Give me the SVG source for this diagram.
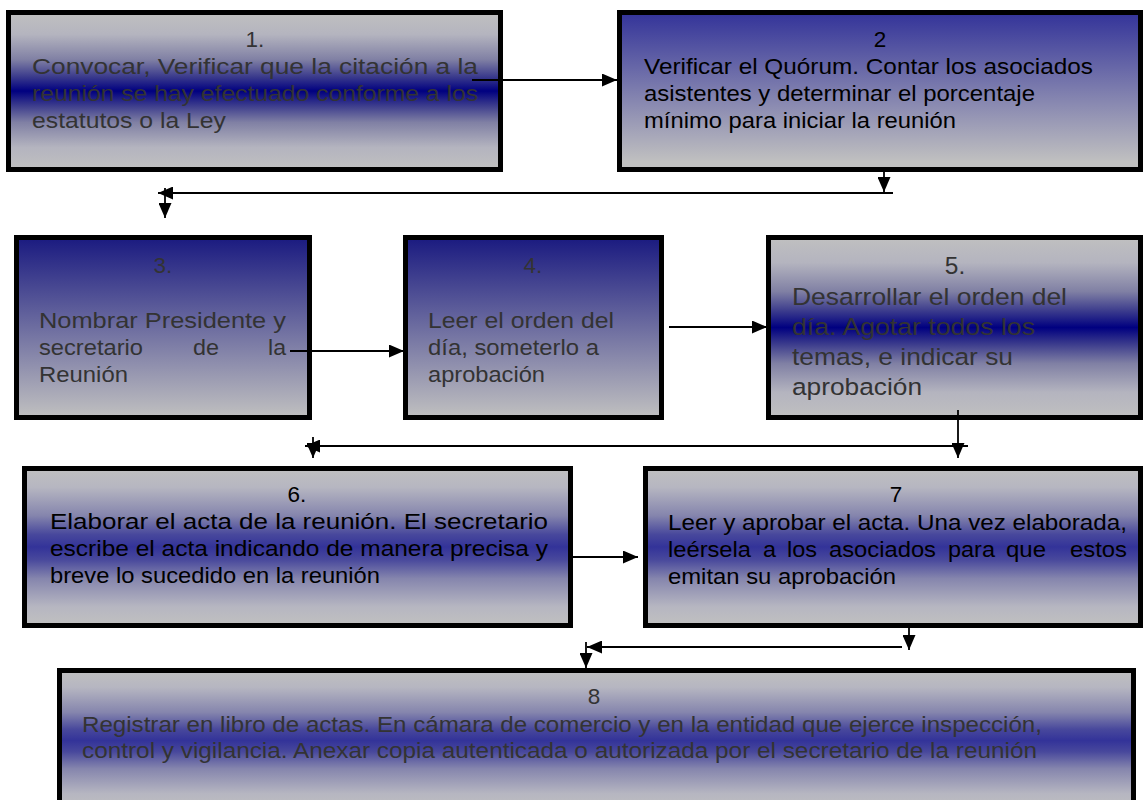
<svg xmlns="http://www.w3.org/2000/svg" width="1143" height="800" viewBox="0 0 1143 800" xml:space="preserve">
  <defs>
    <!-- grey / navy / grey band -->
    <linearGradient id="bandNavy" x1="0" y1="0" x2="0" y2="1">
      <stop offset="0" stop-color="#c0c0c0"/>
      <stop offset="0.14" stop-color="#b4b4bf"/>
      <stop offset="0.3" stop-color="#8080a4"/>
      <stop offset="0.41" stop-color="#3a3a8c"/>
      <stop offset="0.5" stop-color="#000080"/>
      <stop offset="0.59" stop-color="#3a3a8c"/>
      <stop offset="0.7" stop-color="#8080a4"/>
      <stop offset="0.86" stop-color="#b4b4bf"/>
      <stop offset="1" stop-color="#c0c0c0"/>
    </linearGradient>
    <!-- grey / blue / grey band -->
    <linearGradient id="bandBlue" x1="0" y1="0" x2="0" y2="1">
      <stop offset="0" stop-color="#c0c0c0"/>
      <stop offset="0.12" stop-color="#b6b6c1"/>
      <stop offset="0.3" stop-color="#8585ad"/>
      <stop offset="0.42" stop-color="#48489c"/>
      <stop offset="0.5" stop-color="#333399"/>
      <stop offset="0.58" stop-color="#48489c"/>
      <stop offset="0.7" stop-color="#8585ad"/>
      <stop offset="0.88" stop-color="#b6b6c1"/>
      <stop offset="1" stop-color="#c0c0c0"/>
    </linearGradient>
    <!-- blue at top fading to grey -->
    <linearGradient id="fadeBlue" x1="0" y1="0" x2="0" y2="1">
      <stop offset="0" stop-color="#333399"/>
      <stop offset="0.95" stop-color="#c0c0c0"/>
    </linearGradient>
    <!-- navy at top fading to grey -->
    <linearGradient id="fadeNavy" x1="0" y1="0" x2="0" y2="1">
      <stop offset="0" stop-color="#1a1a80"/>
      <stop offset="1" stop-color="#c0c0c0"/>
    </linearGradient>
    <marker id="ah" viewBox="0 0 15 13" refX="15" refY="6.5" markerWidth="15" markerHeight="13" markerUnits="userSpaceOnUse" orient="auto">
      <path d="M0,0 L15,6.5 L0,13 Z" fill="#000"/>
    </marker>
  </defs>
  <style>
    .box { stroke: #000; stroke-width: 5; }
    .t { font-family: "Liberation Sans", Arial, sans-serif; font-size: 22.5px; }
    .big { font-size: 24.5px; }
    .g { fill: #333333; }
    .k { fill: #000000; }
    .m { text-anchor: middle; }
    .c { stroke: #000; stroke-width: 1.8; fill: none; marker-end: url(#ah); }
  </style>

  <rect width="1143" height="800" fill="#ffffff"/>

  <g id="step1">
    <rect class="box" x="8.5" y="12.5" width="492" height="157" fill="url(#bandNavy)"/>
    <g class="t g">
      <text class="m" x="255" y="47">1.</text>
      <text x="32" y="74" textLength="446" lengthAdjust="spacingAndGlyphs">Convocar, Verificar  que  la citación a la</text>
      <text x="32" y="101" textLength="446" lengthAdjust="spacingAndGlyphs">reunión  se hay efectuado conforme a los</text>
      <text x="32" y="128" textLength="194" lengthAdjust="spacingAndGlyphs">estatutos  o la Ley</text>
    </g>
  </g>

  <g id="step2">
    <rect class="box" x="619.5" y="12.5" width="521" height="157" fill="url(#fadeBlue)"/>
    <g class="t k">
      <text class="m" x="880" y="47">2</text>
      <text x="644" y="74" textLength="449" lengthAdjust="spacingAndGlyphs">Verificar  el Quórum. Contar los asociados</text>
      <text x="644" y="101" textLength="391" lengthAdjust="spacingAndGlyphs">asistentes y determinar el porcentaje</text>
      <text x="644" y="128" textLength="312" lengthAdjust="spacingAndGlyphs">mínimo para iniciar la reunión</text>
    </g>
  </g>

  <g id="step3">
    <rect class="box" x="16.5" y="237.5" width="293" height="180" fill="url(#fadeNavy)"/>
    <g class="t g">
      <text class="m" x="163" y="273">3.</text>
      <text x="39" y="328" textLength="247" lengthAdjust="spacingAndGlyphs">Nombrar Presidente  y</text>
      <text x="39" y="355" textLength="104" lengthAdjust="spacingAndGlyphs">secretario</text>
      <text x="193" y="355" textLength="26" lengthAdjust="spacingAndGlyphs">de</text>
      <text x="268" y="355" textLength="18" lengthAdjust="spacingAndGlyphs">la</text>
      <text x="39" y="382" textLength="89" lengthAdjust="spacingAndGlyphs">Reunión</text>
    </g>
  </g>

  <g id="step4">
    <rect class="box" x="405.5" y="237.5" width="256" height="180" fill="url(#fadeNavy)"/>
    <g class="t g">
      <text class="m" x="533" y="273">4.</text>
      <text x="428" y="328" textLength="186" lengthAdjust="spacingAndGlyphs">Leer  el orden del</text>
      <text x="428" y="355" textLength="171" lengthAdjust="spacingAndGlyphs">día, someterlo a</text>
      <text x="428" y="382" textLength="117" lengthAdjust="spacingAndGlyphs">aprobación</text>
    </g>
  </g>

  <g id="step5">
    <rect class="box" x="768.5" y="237.5" width="372" height="180" fill="url(#bandNavy)"/>
    <g class="t big g">
      <text class="m" x="955" y="274">5.</text>
      <text x="792" y="305" textLength="275" lengthAdjust="spacingAndGlyphs">Desarrollar el orden del</text>
      <text x="792" y="335" textLength="243" lengthAdjust="spacingAndGlyphs">día. Agotar todos los</text>
      <text x="792" y="365" textLength="221" lengthAdjust="spacingAndGlyphs">temas, e indicar su</text>
      <text x="792" y="395" textLength="130" lengthAdjust="spacingAndGlyphs">aprobación</text>
    </g>
  </g>

  <g id="step6">
    <rect class="box" x="24.5" y="468.5" width="546" height="157" fill="url(#bandBlue)"/>
    <g class="t k">
      <text class="m" x="297" y="502">6.</text>
      <text x="50" y="529" textLength="498" lengthAdjust="spacingAndGlyphs">Elaborar el acta  de la reunión. El secretario</text>
      <text x="50" y="556" textLength="498" lengthAdjust="spacingAndGlyphs">escribe  el acta indicando de manera precisa y</text>
      <text x="50" y="583" textLength="330" lengthAdjust="spacingAndGlyphs">breve lo sucedido en la reunión</text>
    </g>
  </g>

  <g id="step7">
    <rect class="box" x="645.5" y="468.5" width="495" height="157" fill="url(#bandBlue)"/>
    <g class="t k">
      <text class="m" x="896" y="502">7</text>
      <text x="668" y="530" textLength="459" lengthAdjust="spacingAndGlyphs">Leer y aprobar el acta. Una vez elaborada,</text>
      <text x="668" y="557" textLength="83" lengthAdjust="spacingAndGlyphs">leérsela</text>
      <text x="763" y="557" textLength="13" lengthAdjust="spacingAndGlyphs">a</text>
      <text x="787" y="557" textLength="30" lengthAdjust="spacingAndGlyphs">los</text>
      <text x="829" y="557" textLength="107" lengthAdjust="spacingAndGlyphs">asociados</text>
      <text x="948" y="557" textLength="47" lengthAdjust="spacingAndGlyphs">para</text>
      <text x="1006" y="557" textLength="40" lengthAdjust="spacingAndGlyphs">que</text>
      <text x="1070" y="557" textLength="57" lengthAdjust="spacingAndGlyphs">estos</text>
      <text x="668" y="584" textLength="228" lengthAdjust="spacingAndGlyphs">emitan su aprobación</text>
    </g>
  </g>

  <g id="step8">
    <rect class="box" x="59.5" y="670.5" width="1074" height="140" fill="url(#bandBlue)"/>
    <g class="t g">
      <text class="m" x="594" y="704">8</text>
      <text x="82" y="732" textLength="960" lengthAdjust="spacingAndGlyphs">Registrar en libro de actas. En cámara de comercio y en la entidad  que ejerce inspección,</text>
      <text x="82" y="758" textLength="955" lengthAdjust="spacingAndGlyphs">control y vigilancia. Anexar  copia autenticada o autorizada  por el secretario de la reunión</text>
    </g>
  </g>

  <!-- connectors drawn last so that their tails show over the boxes -->
  <g id="connectors">
    <path class="c" d="M472,80 H617"/>
    <path class="c" d="M884,172 V192"/>
    <path class="c" d="M893,193 H158"/>
    <path class="c" d="M165,188 V218"/>
    <path class="c" d="M290,351 H404"/>
    <path class="c" d="M669,327 H767"/>
    <path class="c" d="M958,410 V458"/>
    <path class="c" d="M968,446 H305"/>
    <path class="c" d="M313,437 V458"/>
    <path class="c" d="M573,557 H638"/>
    <path class="c" d="M909,627 V650"/>
    <path class="c" d="M902,647 H587"/>
    <path class="c" d="M586,642 V668"/>
  </g>
</svg>
